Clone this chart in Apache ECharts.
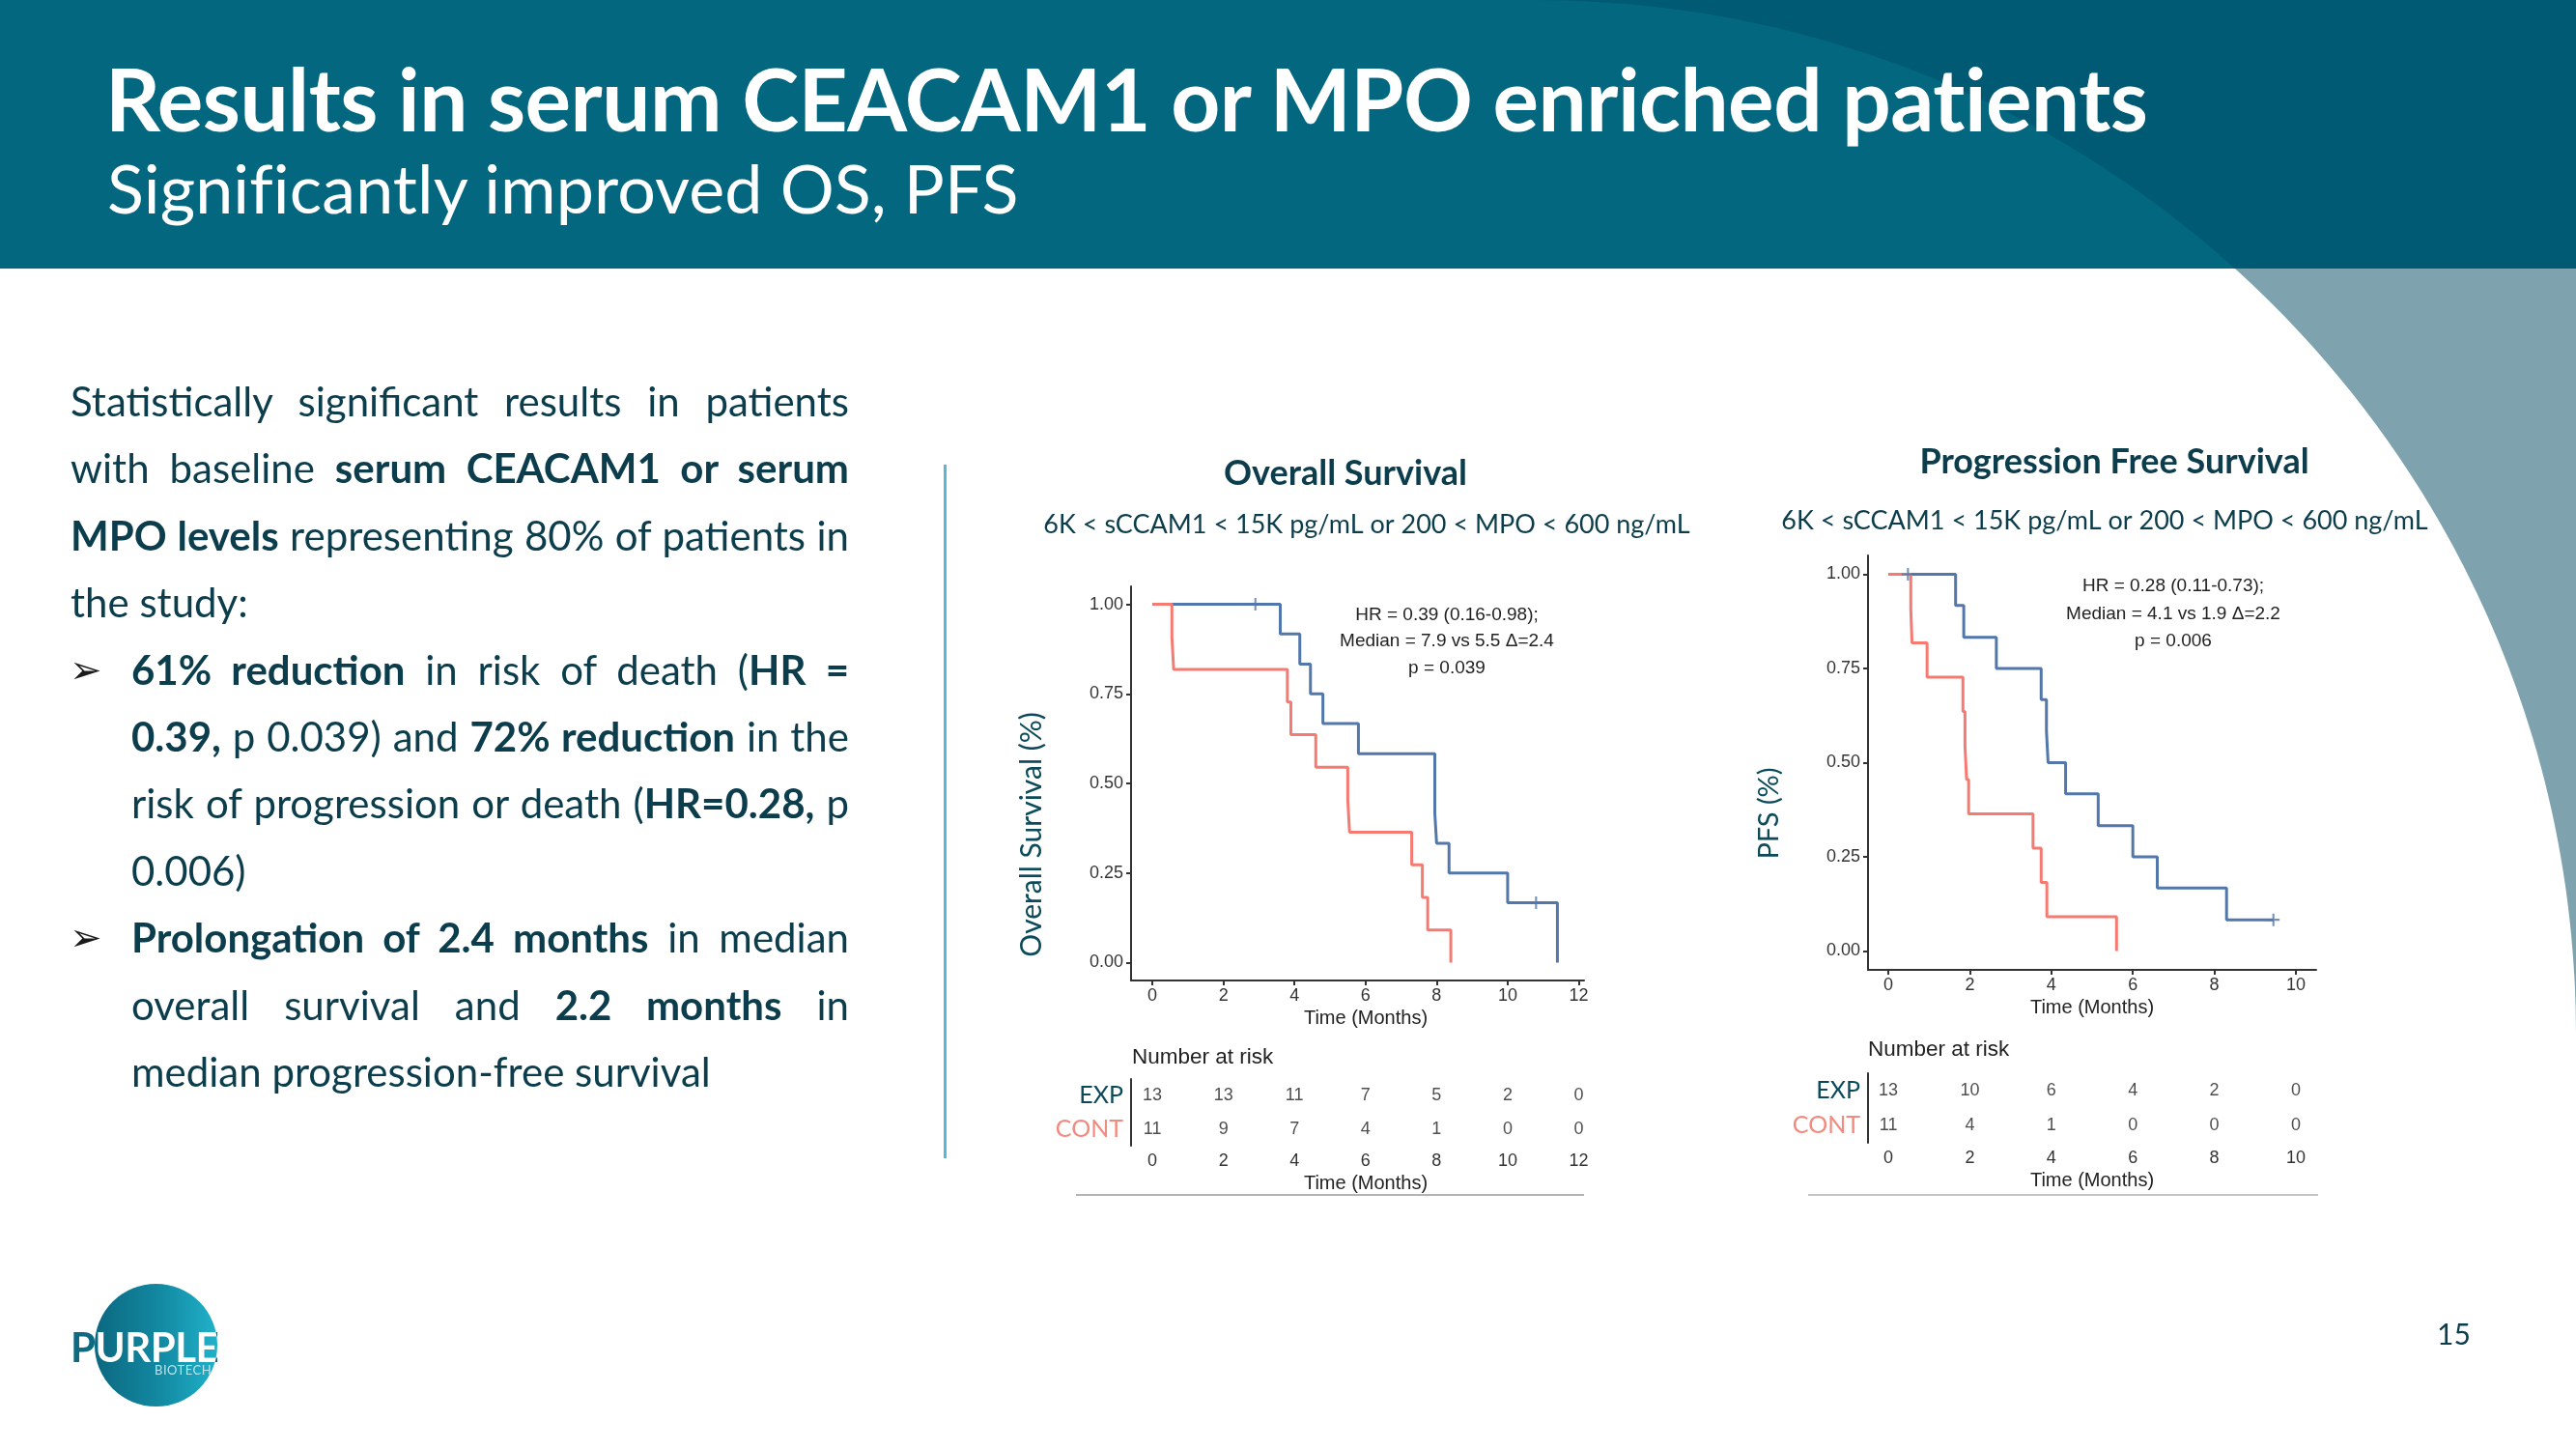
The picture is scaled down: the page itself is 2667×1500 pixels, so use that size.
<!DOCTYPE html>
<html lang="en">
<head>
<meta charset="UTF-8">
<title>Results in serum CEACAM1 or MPO enriched patients</title>
<script src="https://cdn.jsdelivr.net/npm/echarts/dist/echarts.min.js"></script>
<style>
    body { margin: 0; width: 2667px; height: 1500px; overflow: hidden; background: #fff; font-family: Lato, "Open Sans", sans-serif; }
    #bg { position: absolute; left: 0; top: 0; z-index: 0; }
    #main { position: absolute; left: 0; top: 0; width: 2667px; height: 1500px; z-index: 1; }
    .abs { position: absolute; z-index: 2; white-space: nowrap; }
    #title { left: 109px; top: 57px; font: 700 89px/1 Lato; letter-spacing: -0.5px; color: #fff; }
    #subtitle { left: 111px; top: 159px; font: 400 70px/1 Lato; letter-spacing: 0.1px; color: #fff; }
    .line { position: absolute; z-index: 2; font: 400 42px/69.4px Lato; color: #0c3d4c; white-space: nowrap; }
    .just { text-align: justify; text-align-last: justify; }
    .line b { font-weight: 700; }
    .p0 { left: 73px; width: 806px; }
    .p1 { left: 136px; width: 743px; }
    .arrow { position: absolute; z-index: 2; left: 72px; font: 40px/69.4px "DejaVu Sans"; color: #1a1a1a; }
    #divider { position: absolute; z-index: 2; left: 977px; top: 481px; width: 3px; height: 718px; background: #5ab6d4; }
    #logo { position: absolute; z-index: 2; left: 98px; top: 1329px; width: 127px; height: 127px; border-radius: 50%;
            background: linear-gradient(90deg, #0b6880 0%, #138aa3 55%, #20b2ca 100%); }
    .purple { position: absolute; z-index: 3; left: 73px; top: 1373px; font: 700 42px/1 Lato; letter-spacing: -0.5px; }
    #pdark { color: #0e6a80; }
    #plight { color: #fff; clip-path: circle(63.5px at 88.5px 20px); }
    #biotech { position: absolute; z-index: 3; left: 160px; top: 1412px; font: 400 13px/1 Lato; color: #b8e6f0; letter-spacing: 0.5px; }
    #page { position: absolute; z-index: 2; left: 2523px; top: 1365px; font: 400 30px/1 Lato; color: #0c3d4c; }
</style>
</head>
<body>
<svg id="bg" width="2667" height="1500">
    <defs><clipPath id="hc"><rect x="0" y="0" width="2667" height="278"/></clipPath></defs>
    <path d="M1590,0 C2185,0 2667,480 2667,1070 L2667,0 Z" fill="#7fa3ae"/>
    <rect x="0" y="0" width="2667" height="278" fill="#02677f"/>
    <path d="M1590,0 C2185,0 2667,480 2667,1070 L2667,0 Z" fill="#005a73" clip-path="url(#hc)"/>
</svg>
<div id="main"></div>

<div id="title" class="abs">Results in serum CEACAM1 or MPO enriched patients</div>
<div id="subtitle" class="abs">Significantly improved OS, PFS</div>

<div class="line p0 just" style="top:381px">Statistically significant results in patients</div>
<div class="line p0 just" style="top:450.4px">with baseline <b>serum CEACAM1 or serum</b></div>
<div class="line p0 just" style="top:519.8px"><b>MPO levels</b> representing 80% of patients in</div>
<div class="line p0" style="top:589.2px">the study:</div>
<div class="arrow" style="top:658.6px">&#10146;</div>
<div class="line p1 just" style="top:658.6px"><b>61% reduction</b> in risk of death (<b>HR =</b></div>
<div class="line p1 just" style="top:728px"><b>0.39,</b> p 0.039) and <b>72% reduction</b> in the</div>
<div class="line p1 just" style="top:797.4px">risk of progression or death (<b>HR=0.28,</b> p</div>
<div class="line p1" style="top:866.8px">0.006)</div>
<div class="arrow" style="top:936.2px">&#10146;</div>
<div class="line p1 just" style="top:936.2px"><b>Prolongation of 2.4 months</b> in median</div>
<div class="line p1 just" style="top:1005.6px">overall survival and <b>2.2 months</b> in</div>
<div class="line p1" style="top:1075px">median progression-free survival</div>

<div id="divider"></div>

<div id="logo"></div>
<div id="pdark" class="purple">PURPLE</div>
<div id="plight" class="purple">PURPLE</div>
<div id="biotech">BIOTECH</div>
<div id="page">15</div>

<script>
    // Overall survival, Kaplan-Meier steps (time in months, survival fraction)
    const osExpTime = [0, 3.6, 4.15, 4.45, 4.8, 5.8, 7.95, 8.0, 8.35, 10.0, 11.4];
    const osExpSurv = [1, 0.917, 0.833, 0.75, 0.667, 0.583, 0.417, 0.333, 0.25, 0.167, 0];
    const osExpCensor = [[2.9, 1], [10.8, 0.167]];
    const osContTime = [0, 0.55, 0.6, 3.8, 3.9, 4.6, 5.5, 5.55, 7.3, 7.6, 7.75, 8.4];
    const osContSurv = [1, 0.909, 0.818, 0.727, 0.636, 0.545, 0.455, 0.364, 0.273, 0.182, 0.091, 0];

    // Progression free survival
    const pfsExpTime = [0, 1.65, 1.85, 2.65, 3.75, 3.88, 3.92, 4.35, 5.15, 6.0, 6.6, 8.3, 9.45];
    const pfsExpSurv = [1, 0.917, 0.833, 0.75, 0.667, 0.583, 0.5, 0.417, 0.333, 0.25, 0.167, 0.083, 0.083];
    const pfsExpCensor = [[0.48, 1], [9.45, 0.083]];
    const pfsContTime = [0, 0.55, 0.58, 0.95, 1.83, 1.88, 1.92, 1.97, 3.55, 3.75, 3.89, 5.6];
    const pfsContSurv = [1, 0.909, 0.818, 0.727, 0.636, 0.545, 0.455, 0.364, 0.273, 0.182, 0.091, 0];

    // Number at risk
    const osTicks = [0, 2, 4, 6, 8, 10, 12];
    const osRiskExp = [13, 13, 11, 7, 5, 2, 0];
    const osRiskCont = [11, 9, 7, 4, 1, 0, 0];
    const pfsTicks = [0, 2, 4, 6, 8, 10];
    const pfsRiskExp = [13, 10, 6, 4, 2, 0];
    const pfsRiskCont = [11, 4, 1, 0, 0, 0];

    const survTicks = [0, 0.25, 0.5, 0.75, 1];
    const groups = ['EXP', 'CONT'];

    const osStats = ['HR = 0.39 (0.16-0.98);', 'Median = 7.9 vs 5.5 \u0394=2.4', 'p = 0.039'];
    const pfsStats = ['HR = 0.28 (0.11-0.73);', 'Median = 4.1 vs 1.9 \u0394=2.2', 'p = 0.006'];

    const BLUE = '#5277ab';
    const RED = '#f47a72';
    const AXIS = '#333333';
    const TEAL = '#0c3d4c';
    const plotFont = '"Liberation Sans", Arial, sans-serif';
    const PLUS = 'path://M4.2,0h1.6v10h-1.6z M0,4.2h10v1.6h-10z';

    const zip = (a, b) => a.map((v, i) => [v, b[i]]);

    function timeAxis(grid, min, max, ticks, nameShift) {
        return {
            gridIndex: grid, type: 'value', min: min, max: max,
            axisLine: { onZero: false, lineStyle: { color: AXIS, width: 2 } },
            axisTick: { customValues: ticks, length: 5, lineStyle: { color: AXIS, width: 2 } },
            axisLabel: { customValues: ticks, color: AXIS, fontSize: 18, fontFamily: plotFont, margin: 7 },
            splitLine: { show: false },
            name: 'Time (Months)', nameLocation: 'middle', nameGap: 29,
            nameTextStyle: { color: '#222', fontSize: 20, fontFamily: plotFont, padding: [0, 0, 0, nameShift] }
        };
    }

    function survAxis(grid) {
        return {
            gridIndex: grid, type: 'value', min: -0.05, max: 1.05,
            axisLine: { show: true, onZero: false, lineStyle: { color: AXIS, width: 2 } },
            axisTick: { show: true, customValues: survTicks, length: 5, lineStyle: { color: AXIS, width: 2 } },
            axisLabel: { customValues: survTicks, color: AXIS, fontSize: 18, fontFamily: plotFont, margin: 8,
                         formatter: v => v.toFixed(2) },
            splitLine: { show: false }
        };
    }

    function groupAxis(grid) {
        return {
            gridIndex: grid, type: 'category', inverse: true,
            data: [
                { value: groups[0], textStyle: { color: '#0b4a5a' } },
                { value: groups[1], textStyle: { color: '#f28a80' } }
            ],
            axisLine: { onZero: false, lineStyle: { color: AXIS, width: 2 } },
            axisTick: { alignWithLabel: true, length: 4, lineStyle: { color: AXIS, width: 2 } },
            axisLabel: { fontSize: 25, fontFamily: 'Lato', margin: 8 }
        };
    }

    function kmLine(idx, data, color) {
        return {
            type: 'line', xAxisIndex: idx, yAxisIndex: idx, data: data, step: 'end',
            symbol: 'none', lineStyle: { color: color, width: 3 }, silent: true
        };
    }

    function censor(idx, data, color) {
        return {
            type: 'scatter', xAxisIndex: idx, yAxisIndex: idx, data: data,
            symbol: PLUS, symbolSize: 13, itemStyle: { color: color }, silent: true, z: 3
        };
    }

    function riskRow(idx, ticks, counts, group) {
        return {
            type: 'scatter', xAxisIndex: idx, yAxisIndex: idx,
            data: ticks.map((t, i) => [t, group, counts[i]]),
            symbolSize: 1, itemStyle: { color: 'transparent' }, silent: true,
            label: { show: true, position: 'inside', formatter: p => p.value[2],
                     color: '#222', fontSize: 18, fontFamily: plotFont }
        };
    }

    function statText(cx, ys, lines) {
        return lines.map((t, i) => ({
            type: 'text', x: cx, y: ys[i],
            style: { text: t, fill: '#222', fontSize: 19, fontFamily: plotFont, align: 'center', verticalAlign: 'middle' }
        }));
    }

    function label(x, y, text, size, weight, color, rotation) {
        return {
            type: 'text', x: x, y: y, rotation: rotation || 0,
            style: { text: text, fill: color, fontSize: size, fontWeight: weight, fontFamily: 'Lato',
                     align: 'center', verticalAlign: 'middle' }
        };
    }

    const chart = echarts.init(document.getElementById('main'));

    const option = {
        animation: false,
        grid: [
            { left: 1171, top: 607, width: 469, height: 408 },
            { left: 1934, top: 575, width: 464, height: 429 },
            { left: 1171, top: 1117, width: 469, height: 69 },
            { left: 1934, top: 1111, width: 464, height: 72 }
        ],
        xAxis: [
            timeAxis(0, -0.6, 12.15, osTicks, 17),
            timeAxis(1, -0.5, 10.5, pfsTicks, 0),
            timeAxis(2, -0.6, 12.15, osTicks, 17),
            timeAxis(3, -0.5, 10.5, pfsTicks, 0)
        ],
        yAxis: [survAxis(0), survAxis(1), groupAxis(2), groupAxis(3)],
        series: [
            kmLine(0, zip(osExpTime, osExpSurv), BLUE),
            censor(0, osExpCensor, BLUE),
            kmLine(0, zip(osContTime, osContSurv), RED),
            kmLine(1, zip(pfsExpTime, pfsExpSurv), BLUE),
            censor(1, pfsExpCensor, BLUE),
            kmLine(1, zip(pfsContTime, pfsContSurv), RED),
            riskRow(2, osTicks, osRiskExp, groups[0]),
            riskRow(2, osTicks, osRiskCont, groups[1]),
            riskRow(3, pfsTicks, pfsRiskExp, groups[0]),
            riskRow(3, pfsTicks, pfsRiskCont, groups[1])
        ],
        graphic: [].concat(
            statText(1498, [637, 664, 692], osStats),
            statText(2250, [607, 636, 664], pfsStats),
            [
                label(1393, 490, 'Overall Survival', 36, 700, TEAL),
                label(2189, 478, 'Progression Free Survival', 36, 700, TEAL),
                label(1415, 543, '6K < sCCAM1 < 15K pg/mL or 200 < MPO < 600 ng/mL', 27, 400, TEAL),
                label(2179, 539, '6K < sCCAM1 < 15K pg/mL or 200 < MPO < 600 ng/mL', 27, 400, TEAL),
                label(1068, 864, 'Overall Survival (%)', 30, 400, '#0b4a5a', Math.PI / 2),
                label(1832, 842, 'PFS (%)', 29, 400, '#0b4a5a', Math.PI / 2),
                {
                    type: 'text', x: 1172, y: 1095,
                    style: { text: 'Number at risk', fill: '#222', fontSize: 22.5, fontFamily: plotFont, verticalAlign: 'middle' }
                },
                {
                    type: 'text', x: 1934, y: 1087,
                    style: { text: 'Number at risk', fill: '#222', fontSize: 22.5, fontFamily: plotFont, verticalAlign: 'middle' }
                },
                { type: 'line', shape: { x1: 1114, y1: 1237, x2: 1640, y2: 1237 }, style: { stroke: '#9a9a9a', lineWidth: 1.5 } },
                { type: 'line', shape: { x1: 1872, y1: 1237, x2: 2400, y2: 1237 }, style: { stroke: '#b0b0b0', lineWidth: 1.5 } }
            ]
        )
    };

    chart.setOption(option);
</script>
</body>
</html>
